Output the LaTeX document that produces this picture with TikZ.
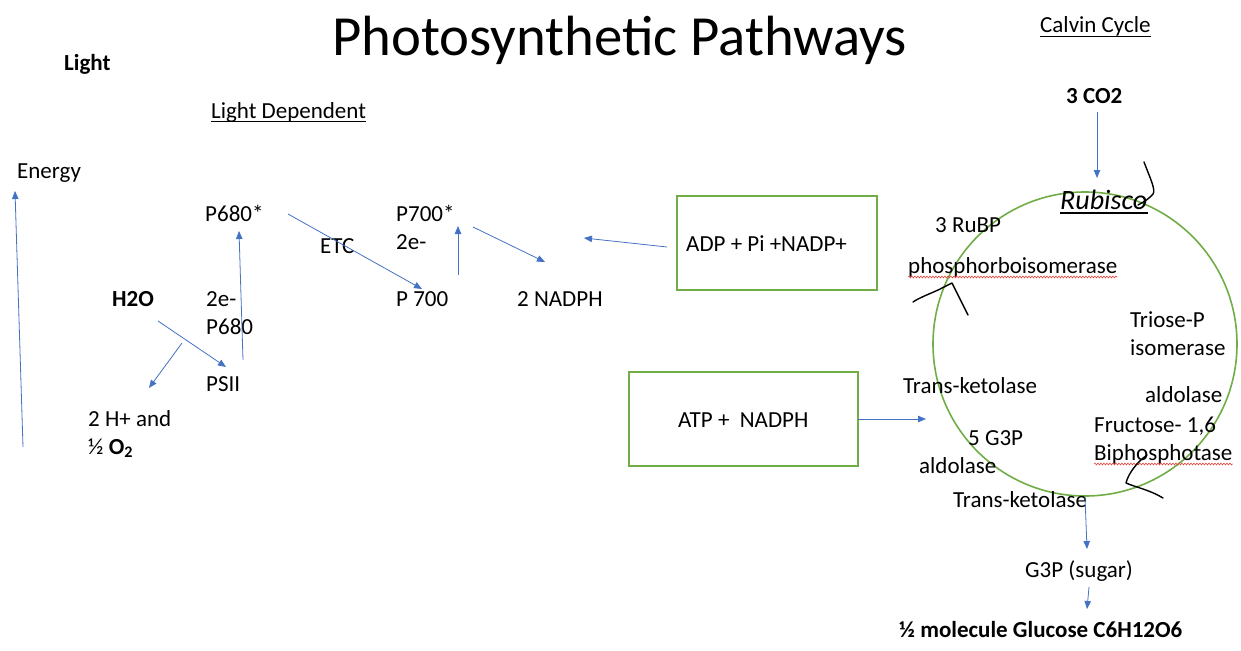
\documentclass[tikz,border=0pt]{standalone}
\usepackage{fontspec}
\setmainfont{Carlito}
\usetikzlibrary{arrows.meta,decorations.pathmorphing}
\definecolor{arrowblue}{HTML}{4472C4}
\definecolor{cyclegreen}{HTML}{70AD47}
\definecolor{spellred}{HTML}{E8413C}
\begin{document}
\begin{tikzpicture}[x=1pt,y=-1pt,
  lbl/.style={anchor=base west, inner sep=0pt, font=\fontsize{23}{28}\selectfont},
  bold lbl/.style={lbl, font=\fontsize{23}{28}\selectfont\bfseries},
  flow/.style={draw=arrowblue, line width=0.8pt, -{Triangle[length=8pt,width=6.5pt]}},
  greenbox/.style={draw=cyclegreen, line width=1.4pt},
  ink/.style={draw=black, line width=1.4pt, line cap=round, line join=round},
  uline/.style={draw=black, line width=1pt},
  spell/.style={draw=spellred, line width=0.6pt, decorate,
    decoration={snake, amplitude=0.9pt, segment length=3pt}}
]
\useasboundingbox (0,0) rectangle (1241,650);

% ---------- headings ----------
\node[anchor=base west, inner sep=0pt, font=\fontsize{56.7}{60}\selectfont] (title) at (332,56) {Photosynthetic Pathways};
\node[lbl] (calvin) at (1040,33) {Calvin Cycle};
\draw[uline] ([yshift=-4pt]calvin.base west) -- ([yshift=-4pt]calvin.base east);
\node[bold lbl] (light) at (64,71) {Light};
\node[lbl] (lightdep) at (211,118) {Light Dependent};
\draw[uline] ([yshift=-4pt]lightdep.base west) -- ([yshift=-4pt]lightdep.base east);

% ---------- light dependent reactions ----------
\node[lbl] (energy) at (17,178) {Energy};
\node[lbl] (p680s) at (205,221) {P680*};
\node[lbl] (p700s) at (396,221) {P700*};
\node[lbl] (e700) at (396,249) {2e-};
\node[lbl] (etc) at (320,253) {ETC};
\node[lbl] (p700) at (396,306) {P 700};
\node[lbl] (nadph) at (517,306) {2 NADPH};
\node[bold lbl] (h2o) at (112,306) {H2O};
\node[lbl] (e680) at (206,306) {2e-};
\node[lbl] (p680) at (206,334) {P680};
\node[lbl] (psii) at (206,391) {PSII};
\node[lbl] (hplus) at (88,426) {2 H+ and};
\node[lbl] (otwo) at (88,454) {½ \textbf{O\textsubscript{2}}};

\coordinate (energyLow) at (23,447);
\coordinate (energyHigh) at (15,191);
\coordinate (psiiTop) at (243,360);
\coordinate (p680sFoot) at (239,231);
\coordinate (h2oFoot) at (158,321);
\coordinate (psiiHead) at (226,367);
\coordinate (splitFrom) at (182,343);
\coordinate (splitTo) at (149,388);
\coordinate (etcFrom) at (288,214);
\coordinate (etcTo) at (422,289);
\coordinate (p700Top) at (458,275);
\coordinate (p700sFoot) at (458,226);
\coordinate (p700sSide) at (473,227);
\coordinate (nadphHead) at (545,262);
\coordinate (adpTo) at (584,238);

\draw[flow] (energyLow) -- (energyHigh);
\draw[flow] (psiiTop) -- (p680sFoot);
\draw[flow] (h2oFoot) -- (psiiHead);
\draw[flow] (splitFrom) -- (splitTo);
\draw[flow] (etcFrom) -- (etcTo);
\draw[flow] (p700Top) -- (p700sFoot);
\draw[flow] (p700sSide) -- (nadphHead);

% ---------- exchange boxes ----------
\draw[greenbox] (677,196) rectangle (877,290);
\node[lbl] (adp) at (686,251) {ADP + Pi +NADP+};
\draw[greenbox] (629,372) rectangle (858,466);
\node[lbl] (atp) at (678,427) {ATP +\ \ NADPH};
\coordinate (adpOut) at (667,247);
\coordinate (atpOut) at (858,419);
\coordinate (cycleIn) at (926,419);
\draw[flow] (adpOut) -- (adpTo);
\draw[flow] (atpOut) -- (cycleIn);

% ---------- Calvin cycle ----------
\node[bold lbl] (co2) at (1066,103) {3 CO2};
\draw[cyclegreen, line width=1.6pt] (1085,344) circle[radius=152];
\coordinate (co2Foot) at (1097,112);
\coordinate (cycleTop) at (1097,178);
\draw[flow] (co2Foot) -- (cycleTop);

\node[lbl, font=\fontsize{28}{32}\selectfont\itshape] (rubisco) at (1060,209) {Rubisco};
\draw[draw=black, line width=1.8pt] ([yshift=-4pt]rubisco.base west) -- ([yshift=-4pt]rubisco.base east);
\node[lbl] (rubp) at (935,232) {3 RuBP};
\node[lbl] (phospho) at (908,273) {phosphorboisomerase};
\draw[spell] ([yshift=-4pt]phospho.base west) -- ([yshift=-4pt]phospho.base east);
\node[lbl] (triose) at (1130,327) {Triose-P};
\node[lbl] (isomerase) at (1130,355) {isomerase};
\node[lbl] (transkA) at (903,393) {Trans-ketolase};
\node[lbl] (aldolR) at (1145,402) {aldolase};
\node[lbl] (fructose) at (1094,432) {Fructose- 1,6};
\node[lbl] (biphos) at (1094,460) {Biphosphotase};
\draw[spell] ([yshift=-4pt]biphos.base west) -- ([yshift=-4pt]biphos.base east);
\node[lbl] (g3pfive) at (968,445) {5 G3P};
\node[lbl] (aldolL) at (919,473) {aldolase};
\node[lbl] (transkB) at (953,507) {Trans-ketolase};

\node[lbl] (g3p) at (1025,577) {G3P (sugar)};
\node[bold lbl] (glucose) at (899,637) {½ molecule Glucose C6H12O6};
\coordinate (cycleBottom) at (1085,497);
\coordinate (g3pHead) at (1087,549);
\coordinate (g3pFoot) at (1089,587);
\coordinate (glucoseHead) at (1087,609);
\draw[flow] (cycleBottom) -- (g3pHead);
\draw[flow] (g3pFoot) -- (glucoseHead);

% ---------- hand-drawn marks on the cycle ----------
\draw[ink] (1144,162) .. controls (1150,178) and (1156,190) .. (1153,194)
  .. controls (1150,198) and (1144,202) .. (1138,205);
\draw[ink] (913,302) .. controls (920,297) and (935,292) .. (942,288)
  -- (952,283) -- (968,315);
\draw[ink] (1147,455) .. controls (1137,462) and (1128,474) .. (1126,483)
  .. controls (1135,487) and (1150,490) .. (1163,498);
\end{tikzpicture}
\end{document}
